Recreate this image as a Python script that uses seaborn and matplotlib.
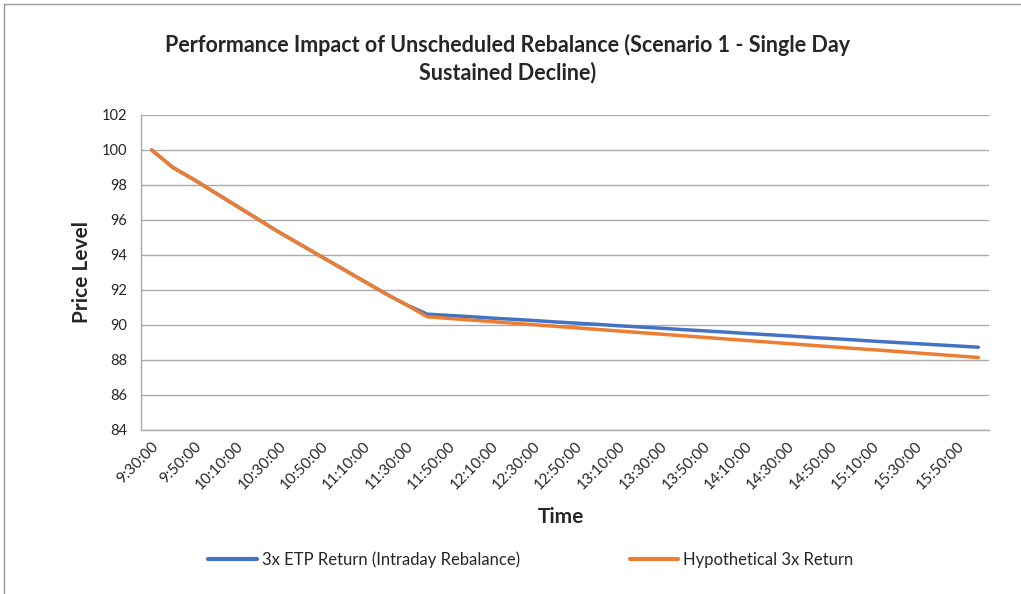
import matplotlib
matplotlib.use('Agg')
import numpy as np
import pandas as pd
import matplotlib.pyplot as plt
import seaborn as sns
from matplotlib.lines import Line2D


# time categories, one every 10 minutes
times = ['9:30:00', '9:40:00', '9:50:00', '10:00:00', '10:10:00', '10:20:00', '10:30:00',
         '10:40:00', '10:50:00', '11:00:00', '11:10:00', '11:20:00', '11:30:00', '11:40:00',
         '11:50:00', '12:00:00', '12:10:00', '12:20:00', '12:30:00', '12:40:00', '12:50:00',
         '13:00:00', '13:10:00', '13:20:00', '13:30:00', '13:40:00', '13:50:00', '14:00:00',
         '14:10:00', '14:20:00', '14:30:00', '14:40:00', '14:50:00', '15:00:00', '15:10:00',
         '15:20:00', '15:30:00', '15:40:00', '15:50:00', '16:00:00']

# values
etp_return = [100.0, 99.0, 98.3, 97.55, 96.8, 96.05, 95.3, 94.6, 93.9, 93.2,
              92.5, 91.8, 91.15, 90.6, 90.53, 90.46, 90.38, 90.31, 90.24, 90.16,
              90.09, 90.02, 89.94, 89.87, 89.8, 89.72, 89.65, 89.58, 89.5, 89.43,
              89.36, 89.28, 89.21, 89.14, 89.06, 88.99, 88.92, 88.85, 88.78, 88.71]

hypo_return = [100.0, 99.0, 98.3, 97.55, 96.8, 96.05, 95.3, 94.6, 93.9, 93.2,
               92.5, 91.8, 91.15, 90.45, 90.36, 90.27, 90.18, 90.09, 90.0, 89.91,
               89.82, 89.73, 89.64, 89.55, 89.46, 89.37, 89.28, 89.19, 89.1, 89.01,
               88.92, 88.83, 88.74, 88.65, 88.57, 88.48, 88.39, 88.3, 88.21, 88.12]

series_names = ['3x ETP Return (Intraday Rebalance)', 'Hypothetical 3x Return']
colors = ['#4472C4', '#ED7D31']

y_ticks = [84, 86, 88, 90, 92, 94, 96, 98, 100, 102]

# long format table for seaborn
df = pd.DataFrame({
    'idx': list(range(len(times))) * 2,
    'value': etp_return + hypo_return,
    'series': [series_names[0]] * len(times) + [series_names[1]] * len(times),
})

sns.set_style('white')
plt.rcParams['font.family'] = ['Lato', 'DejaVu Sans']

fig = plt.figure(figsize=(10.21, 5.94), dpi=100)
ax = fig.add_axes([141 / 1021, 1 - 429.5 / 594, 848 / 1021, 314.5 / 594])

sns.lineplot(data=df, x='idx', y='value', hue='series', palette=colors,
             linewidth=2.5, legend=False, ax=ax)

grid_color = '#ABABAB'
ax.set_xlim(-0.5, len(times) - 0.5)
ax.set_ylim(84, 102)
ax.set_yticks(y_ticks)
ax.set_yticklabels([str(v) for v in y_ticks], fontsize=10.5)
ax.yaxis.grid(True, color=grid_color, linewidth=1)
ax.set_axisbelow(True)

# tick marks every 5 categories, labels every 2
ax.set_xticks(np.arange(-0.5, len(times), 5))
ax.set_xticklabels([])
ax.set_xticks(range(0, len(times), 2), minor=True)
ax.set_xticklabels(times[::2], minor=True, rotation=45, ha='right', va='top',
                   rotation_mode='anchor', fontsize=11)
ax.tick_params(axis='x', which='major', length=4, color=grid_color, direction='out')
ax.tick_params(axis='x', which='minor', length=0, pad=7)
ax.tick_params(axis='y', length=6, color=grid_color, pad=4)

for side in ['top', 'right']:
    ax.spines[side].set_visible(False)
for side in ['left', 'bottom']:
    ax.spines[side].set_color(grid_color)
    ax.spines[side].set_linewidth(1)

ax.set_xlabel('Time', fontsize=15, fontweight='bold')
ax.xaxis.set_label_coords(0.495, -0.246)
ax.set_ylabel('Price Level', fontsize=15, fontweight='bold')
ax.yaxis.set_label_coords(-0.058, 0.5)

fig.text(508 / 1021, 1 - 59 / 594,
         'Performance Impact of Unscheduled Rebalance (Scenario 1 - Single Day\nSustained Decline)',
         ha='center', va='center', fontsize=15.5, fontweight='bold', linespacing=1.33)

handles = [Line2D([0], [0], color=c, linewidth=3) for c in colors]
fig.legend(handles, series_names, loc='center', bbox_to_anchor=(531 / 1021, 1 - 560 / 594),
           ncol=2, frameon=False, fontsize=12, handlelength=2.9, handletextpad=0.3,
           columnspacing=6.6)

# chart area border (top and left edges visible)
fig.add_artist(Line2D([3.5 / 1021, 3.5 / 1021], [0, 1 - 3.5 / 594], color='#999999', linewidth=1))
fig.add_artist(Line2D([3.5 / 1021, 1], [1 - 3.5 / 594, 1 - 3.5 / 594], color='#999999', linewidth=1))

fig.savefig('out.png', dpi=100)
